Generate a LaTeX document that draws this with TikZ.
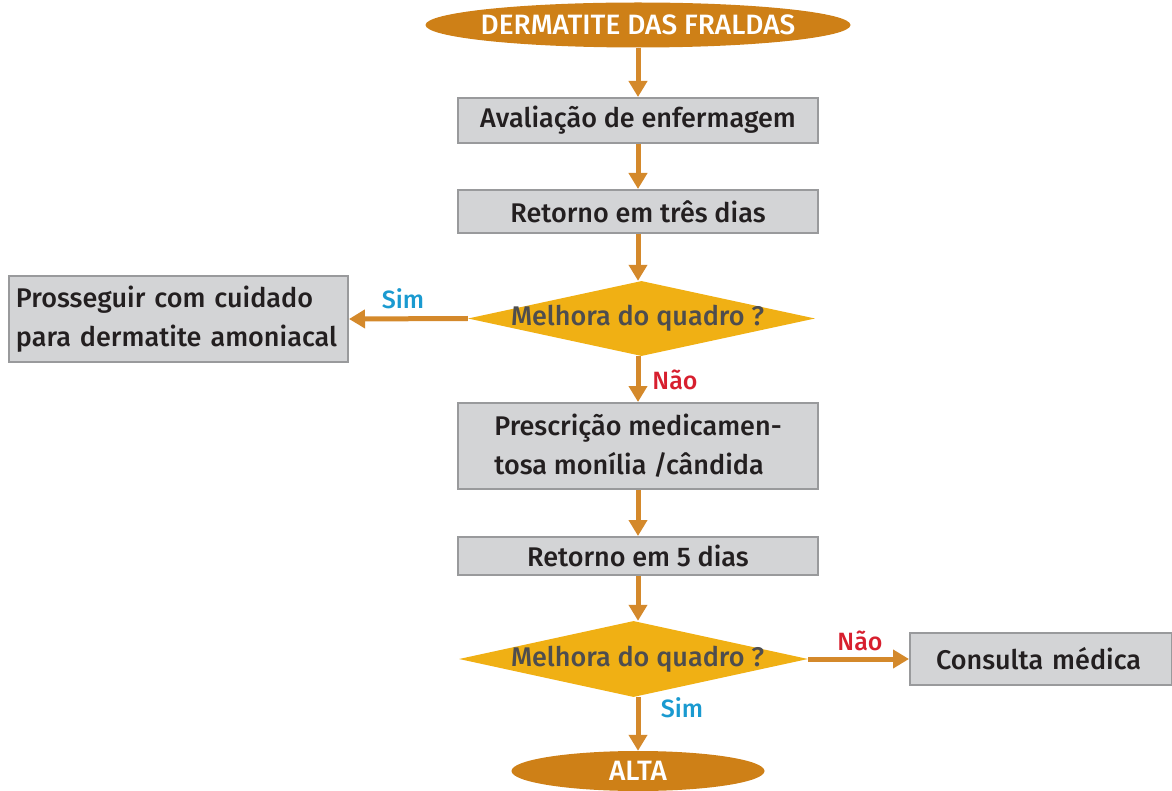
\documentclass[tikz,border=0pt]{standalone}
\usepackage{fontspec}
\setmainfont{Fira Sans}[BoldFont={Fira Sans Medium}]
\usetikzlibrary{shapes.geometric,arrows.meta}
\definecolor{ellfill}{RGB}{206,128,23}
\definecolor{diafill}{RGB}{240,176,20}
\definecolor{boxfill}{RGB}{211,212,214}
\definecolor{boxline}{RGB}{153,154,156}
\definecolor{arrowc}{RGB}{212,137,43}
\definecolor{boxtext}{RGB}{35,31,32}
\definecolor{diatext}{RGB}{77,77,79}
\definecolor{simblue}{RGB}{26,154,208}
\definecolor{naored}{RGB}{215,31,46}
\tikzset{
  term/.style={ellipse, fill=ellfill, inner xsep=-20pt, inner ysep=-12pt, text=white, font=\fontsize{28}{32}\selectfont\bfseries},
  stepbox/.style={rectangle, fill=boxfill, draw=boxline, line width=2pt, inner sep=0pt, text=boxtext, font=\fontsize{27}{39}\selectfont\bfseries},
  dia/.style={diamond, fill=diafill, inner sep=0pt},
  diatxt/.style={text=diatext, font=\fontsize{27}{30}\selectfont\bfseries, inner sep=0pt},
  flow/.style={draw=arrowc, line width=5pt, -{Triangle[width=18pt,length=16pt]}, fill=arrowc},
  lblsim/.style={text=simblue, font=\fontsize{25}{28}\selectfont\bfseries, inner sep=0pt},
  lblnao/.style={text=naored, font=\fontsize{25}{28}\selectfont\bfseries, inner sep=0pt},
}
\begin{document}
\begin{tikzpicture}[x=1pt,y=-1pt]
\useasboundingbox (0,0) rectangle (1172,791);
\node[term, minimum width=425pt, minimum height=45pt] (start) at (638,25) {DERMATITE DAS FRALDAS};
\node[stepbox, minimum width=360pt, minimum height=45pt] (a1) at (638,120.5) {Avaliação de enfermagem};
\node[stepbox, minimum width=360pt, minimum height=43pt] (a2) at (638,211.5) {Retorno em três dias};
\node[dia, minimum width=347pt, minimum height=75pt] (d1) at (641.5,318.5) {};
\node[diatxt] (d1t) at ([xshift=-4pt]d1.center) {Melhora do quadro ?};
\node[stepbox, minimum width=339pt, minimum height=86pt, align=left, text width=325pt, inner xsep=7pt] (left) at (178.5,319) {Prosseguir com cuidado\\para dermatite amoniacal};
\node[stepbox, minimum width=360pt, minimum height=86pt, align=left] (a3) at (638,446) {Prescrição medicamen-\\tosa monília /cândida};
\node[stepbox, minimum width=360pt, minimum height=38pt] (a4) at (638,556) {Retorno em 5 dias};
\node[dia, minimum width=349pt, minimum height=76pt] (d2) at (633.5,659) {};
\node[diatxt] (d2t) at ([xshift=4pt]d2.center) {Melhora do quadro ?};
\node[stepbox, minimum width=262pt, minimum height=52pt, align=left, text width=210pt, inner xsep=26pt] (cons) at (1041,659) {Consulta médica};
\node[term, minimum width=253pt, minimum height=40pt] (alta) at (638,771) {ALTA};
\draw[flow] (start.south) -- (a1.north);
\draw[flow] (a1.south) -- (a2.north);
\draw[flow] (a2.south) -- (a2.south |- d1.north);
\draw[flow] (d1.west) -- (left.east);
\draw[flow] (a3.north |- d1.south) -- (a3.north);
\draw[flow] (a3.south) -- (a4.north);
\draw[flow] (a4.south) -- (a4.south |- d2.north);
\draw[flow] (d2.east) -- (cons.west);
\draw[flow] (alta.north |- d2.south) -- (alta.north);
\node[lblsim] (s1) at (403,299) {Sim};
\node[lblnao] (n1) at (675,380) {Não};
\node[lblnao] (n2) at (860,641) {Não};
\node[lblsim] (s2) at (682,708) {Sim};
\end{tikzpicture}
\end{document}
